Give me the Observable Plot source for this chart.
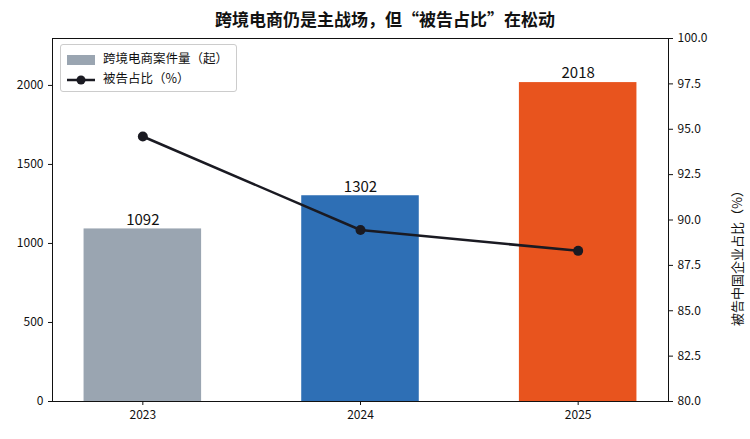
<!DOCTYPE html>
<html><head><meta charset="utf-8">
<script src="https://cdn.jsdelivr.net/npm/d3@7"></script>
<script src="https://cdn.jsdelivr.net/npm/@observablehq/plot@0.6"></script>
<style>
body{margin:0;background:#fff;font-family:"Noto Sans CJK SC","DejaVu Sans",sans-serif;}
#wrap{position:relative;width:750px;height:439px;}
#title{height:30px;line-height:38px;text-align:center;font-size:17px;font-weight:bold;color:#111;padding-left:20px;}
#legend{position:absolute;left:60px;top:44px;border:1px solid #ccc;border-radius:3px;background:rgba(255,255,255,.9);padding:3px 8px 3px 6px;font-size:12.5px;line-height:20px;color:#111;}
.sw{display:inline-block;vertical-align:middle;margin-right:8px;}
svg{overflow:visible;}
</style></head><body>
<div id="wrap"><div id="title">跨境电商仍是主战场，但“被告占比”在松动</div><div id="chart"></div>
<div id="legend">
<div><span class="sw" style="width:28px;height:10px;background:#9aa5b1"></span>跨境电商案件量（起）</div>
<div><svg class="sw" width="28" height="12"><line x1="0" y1="6" x2="28" y2="6" stroke="#1a1a22" stroke-width="2.5"/><circle cx="14" cy="6" r="4.5" fill="#1a1a22"/></svg>被告占比（%）</div>
</div></div>
<script>
const years = ["2023","2024","2025"];
const cases = [1092,1302,2018];
const share = [94.6,89.45,88.3];
const colors = ["#9aa5b1","#2e6fb5","#e8541e"];
const rightTicks = [80,82.5,85,87.5,90,92.5,95,97.5,100];
const leftMax = 2297;
const toLeft = v => (v-80)/20*leftMax;
const data = years.map((y,i)=>({i,year:y,cases:cases[i],share:share[i],color:colors[i]}));
const font = '"Noto Sans CJK SC","DejaVu Sans",sans-serif';
const chart = Plot.plot({
  width:750,height:409,marginTop:8,marginBottom:38,marginLeft:52,marginRight:82,
  style:{fontFamily:font,fontSize:"12px",color:"#111",overflow:"visible"},
  x:{domain:[-0.415,2.415],axis:null},
  y:{domain:[0,leftMax],axis:null},
  marks:[
    Plot.rectY(data,{x1:d=>d.i-0.27,x2:d=>d.i+0.27,y1:0,y2:"cases",fill:"color"}),
    Plot.text(data,{x:"i",y:"cases",text:d=>String(d.cases),dy:-9,fontSize:15,fill:"#111"}),
    Plot.line(data,{x:"i",y:d=>toLeft(d.share),stroke:"#1a1a22",strokeWidth:2.5}),
    Plot.dot(data,{x:"i",y:d=>toLeft(d.share),r:5,fill:"#1a1a22"}),
    Plot.axisY([0,500,1000,1500,2000],{tickSize:4,tickFormat:d=>String(d),fontSize:12,label:null}),
    Plot.axisY(rightTicks.map(toLeft),{anchor:"right",tickSize:4,tickFormat:d=>(80+d/leftMax*20).toFixed(1),fontSize:12,label:null}),
    Plot.axisX([0,1,2],{tickSize:4,tickFormat:i=>years[i],fontSize:12,label:null}),
    Plot.frame({stroke:"#111"})
  ]
});
document.getElementById("chart").appendChild(chart);
const svg = d3.select(chart);
svg.append("text").attr("transform","translate(742,225) rotate(-90)").attr("text-anchor","middle")
  .attr("font-size",13).attr("fill","#111").attr("font-family",font).text("被告中国企业占比（%）");
</script></body></html>
